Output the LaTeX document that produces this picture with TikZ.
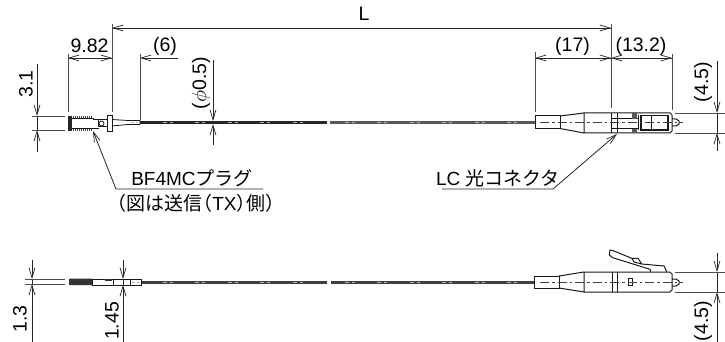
\documentclass[tikz,border=0pt]{standalone}
\usepackage{fontspec}
\setmainfont{Liberation Sans}
\newfontfamily\cjk[RawFeature=+halt]{Noto Sans CJK JP}
\usetikzlibrary{arrows.meta}
\begin{document}
\begin{tikzpicture}[
  x=1pt, y=-1pt,
  dim/.style={line width=0.8pt, black!85},
  ext/.style={line width=0.8pt, black!70},
  tip/.style={dim, -{Straight Barb[length=10pt,width=6pt,line width=0.7pt]}},
  part/.style={line width=1pt, black!90},
  fine/.style={line width=0.8pt, black!90},
  centre/.style={line width=0.6pt, black!75, dash pattern=on 9pt off 3pt on 2.5pt off 3pt},
  fibre/.style={line width=3pt, black!75},
  gapmark/.style={line width=1pt, white!70!black},
  dimtext/.style={font=\fontsize{19.5}{22}\selectfont, inner sep=0pt},
  leadtext/.style={font=\fontsize{19}{22}\selectfont, inner sep=0pt},
  vtext/.style={dimtext, rotate=90}
]
\clip (0,0) rectangle (725,342);
\fill[white] (0,0) rectangle (725,342);

% Top view: fibre with break
\coordinate (tf0) at (140,122.5);
\coordinate (tf1) at (327,122.5);
\coordinate (tf2) at (330,122.5);
\coordinate (tf3) at (535,122.5);
\draw[fibre, black!85] (tf0) -- (tf1);
\draw[fibre, black!65] (tf2) -- (tf3);
\foreach \xa in {163,195,228,260,293,345,377,410,442,475,507}
  \draw[gapmark] (\xa,122.5) -- ++(3.5,0) ++(3,0) -- ++(3.5,0);

% Top view: BF4MC plug
\fill[black!85] (68,116) rectangle (72,131);
\foreach \xa in {73,75,...,91} {
  \fill[black!75] (\xa,116) rectangle ++(1.3,2.5);
  \fill[black!75] (\xa,128.5) rectangle ++(1.3,2.5);
}
\draw[fine] (72,118.5) -- (93,118.5) (72,128.5) -- (93,128.5);
\draw[fine] (93,118.5) -- (93,119) -- (99,119) (93,128.5) -- (93,128) -- (99,128);
\draw[fine] (107,115) rectangle (112,131);
\draw[fine] (112,119.5) -- (128,120.5) -- (140,120.5) -- (140,124.5) -- (128,124.5) -- (112,126);
\draw[part] (98,120) rectangle (107,127);
\draw[fine] (101.5,123.5) circle (2.5);
\draw[gapmark] (131,122.5) -- ++(2.5,0) ++(2,0) -- ++(2.5,0);

% Top view: LC connector
\draw[part] (535,116) rectangle (560,128.5);
\draw[part] (560,116) -- (584,113) (560,128.5) -- (584,133);
\draw[part] (584,113) -- (670,113) -- (672,115) -- (672,131) -- (670,133) -- (584,133) -- cycle;
\draw[part] (611,113) -- (611,133) (617,113) -- (617,133);
\draw[part] (611,119) rectangle (638,129);
\fill[black!65] (632,113) rectangle (637,119);
\fill[black!65] (632,129) rectangle (637,133);
\draw[line width=1.2pt, black!90] (641,115.5) rectangle (668,130);
\draw[part] (651,115.5) -- (651,130) (638,115.5) -- (638,130);
\draw[part] (672,119) -- (676,119) -- (679,121) -- (679,124) -- (676,126) -- (672,126);
\coordinate (tc0) at (540,122.5);
\coordinate (tc1) at (683,122.5);
\draw[centre] (tc0) -- (tc1);

% Bottom view: fibre with break
\coordinate (bf0) at (141,282.5);
\coordinate (bf1) at (327,282.5);
\coordinate (bf2) at (331,282.5);
\coordinate (bf3) at (535,282.5);
\draw[fibre] (bf0) -- (bf1);
\draw[fibre] (bf2) -- (bf3);
\foreach \xa in {163,195,228,260,293,345,377,410,442,475,507}
  \draw[gapmark] (\xa,282.5) -- ++(3.5,0) ++(3,0) -- ++(3.5,0);

% Bottom view: BF4MC plug
\fill[black!80] (69,279) -- (70,278.5) -- (92,278.5) -- (92,285) -- (69,285) -- cycle;
\draw[fine] (92,279) rectangle (113,285);
\fill[black!80] (105,279) rectangle (112,281);
\draw[fine] (113,279) rectangle (130,285.5);
\draw[fine] (130,279.5) rectangle (141,285);
\draw[gapmark] (132,282.5) -- ++(2.5,0) ++(2,0) -- ++(2.5,0);

% Bottom view: LC connector
\draw[part] (534,276) rectangle (559,288);
\draw[part] (559,276) -- (584,272) (559,288) -- (584,292);
\draw[part] (584,272) -- (670,272) -- (672,274) -- (672,290) -- (670,292) -- (584,292) -- cycle;
\draw[part] (612,272) -- (612,292) (617,272) -- (617,292);
\draw[part] (628,278) rectangle (632,285);
\draw[part] (672,279) -- (676,279) -- (679,281) -- (679,284) -- (676,286) -- (672,286);
\draw[part] (650.7,271.7) -- (650,269.3) -- (612.7,257.7) -- (609.3,255) -- (610,250) -- (613.3,250.7)
  -- (631.7,258.3) -- (638,258.3) -- (641.7,264) -- (664,266) -- (666.7,271.7);
\draw[part] (632,258.3) -- (634,262) -- (641.7,264);
\coordinate (bc0) at (540,282.5);
\coordinate (bc1) at (683,282.5);
\draw[centre] (bc0) -- (bc1);

% Dimension L
\coordinate (la) at (112,28);
\coordinate (lb) at (611,28);
\draw[tip] (lb) -- (la);
\draw[tip] (la) -- (lb);
\node[dimtext] (ltext) at (364,14) {L};

% Dimension 9.82 and (6)
\coordinate (pa) at (68,58);
\coordinate (pb) at (112,58);
\coordinate (pc) at (140,58);
\coordinate (pd) at (178,58);
\draw[tip] (pb) -- (pa);
\draw[tip] (pa) -- (pb);
\draw[tip] (pd) -- (pc);
\node[dimtext] (ptext) at (89.5,46) {9.82};
\node[dimtext] (stext) at (165,46) {(6)};

% Extension lines, top left
\coordinate (ea) at (68,112);
\coordinate (eb) at (112,112);
\coordinate (ec) at (140,120);
\coordinate (ed) at (112,24);
\draw[ext] (pa) ++(0,-4) -- (ea);
\draw[ext] (ed) -- (eb);
\draw[ext] (pc) ++(0,-4) -- (ec);

% Dimension 3.1
\coordinate (ta) at (37,64);
\coordinate (tb) at (37,116);
\coordinate (tc) at (37,130);
\coordinate (td) at (37,152);
\draw[tip] (ta) -- (tb);
\draw[tip] (td) -- (tc);
\draw[dim] (tb) -- (tc);
\coordinate (te) at (32,116);
\coordinate (tg) at (65,116);
\coordinate (th) at (32,130);
\coordinate (ti) at (65,130);
\draw[ext] (te) -- (tg);
\draw[ext] (th) -- (ti);
\node[vtext] (ttext) at (26,84) {3.1};

% Dimension phi 0.5
\coordinate (fa) at (213,60);
\coordinate (fb) at (213,121);
\coordinate (fc) at (213,124);
\coordinate (fd) at (213,145);
\draw[tip] (fa) -- (fb);
\draw[tip] (fd) -- (fc);
\node[vtext] (ftext) at (201,83) {($\phi$0.5)};

% Dimension (17) and (13.2)
\coordinate (ra) at (535,58);
\coordinate (rb) at (611,58);
\coordinate (rc) at (672,58);
\draw[tip] (rb) -- (ra);
\draw[tip] (ra) -- (rb);
\draw[tip] (rb) -- (rc);
\draw[tip] (rc) -- (rb);
\node[dimtext] (rtext) at (572.5,46) {(17)};
\node[dimtext] (utext) at (641,46) {(13.2)};
\coordinate (xa) at (535,52);
\coordinate (xb) at (535,112);
\coordinate (xc) at (611,24);
\coordinate (xd) at (611,108);
\coordinate (xe) at (672,54);
\coordinate (xf) at (672,110);
\draw[ext] (xa) -- (xb);
\draw[ext] (xc) -- (xd);
\draw[ext] (xe) -- (xf);

% Dimension (4.5), top
\coordinate (ga) at (717,61);
\coordinate (gb) at (717,113);
\coordinate (gc) at (717,133);
\coordinate (gd) at (717,151);
\coordinate (ge) at (675,113);
\coordinate (gf) at (725,113);
\coordinate (gg) at (675,133);
\coordinate (gh) at (725,133);
\draw[tip] (ga) -- (gb);
\draw[tip] (gd) -- (gc);
\draw[dim] (gb) -- (gc);
\draw[ext] (ge) -- (gf);
\draw[ext] (gg) -- (gh);
\node[vtext] (gtext) at (703,82) {(4.5)};

% Leaders
\coordinate (ma) at (93,131);
\coordinate (mb) at (116,189);
\coordinate (mc) at (263,189);
\draw[tip] (mc) -- (mb) -- (ma);
\node[leadtext] (mtext) at (192,178) {BF4MC{\cjk プラグ}};
\node[leadtext] (ntext) at (196,203) {\cjk （図は送信（\rmfamily TX\cjk ）側）};
\coordinate (oa) at (617,134);
\coordinate (ob) at (553,189);
\coordinate (oc) at (442,189);
\draw[tip] (oc) -- (ob) -- (oa);
\node[leadtext] (otext) at (498,178) {LC {\cjk 光コネクタ}};

% Dimension 1.3
\coordinate (ha) at (32,260);
\coordinate (hb) at (32,279);
\coordinate (hc) at (32,284);
\coordinate (hd) at (32,342);
\draw[tip] (ha) -- (hb);
\draw[tip] (hd) -- (hc);
\draw[dim] (hb) -- (hc);
\coordinate (he) at (25,279);
\coordinate (hf) at (65,279);
\coordinate (hg) at (25,284);
\coordinate (hh) at (65,284);
\draw[ext] (he) -- (hf);
\draw[ext] (hg) -- (hh);
\node[vtext] (htext) at (20,319) {1.3};

% Dimension 1.45
\coordinate (ja) at (123,260);
\coordinate (jb) at (123,279);
\coordinate (jc) at (123,285);
\coordinate (jd) at (123,342);
\draw[tip] (ja) -- (jb);
\draw[tip] (jd) -- (jc);
\draw[dim] (jb) -- (jc);
\node[vtext] (jtext) at (112,321) {1.45};

% Dimension (4.5), bottom
\coordinate (ka) at (717,253);
\coordinate (kb) at (717,272);
\coordinate (kc) at (717,292);
\coordinate (kd) at (717,342);
\coordinate (ke) at (675,272);
\coordinate (kf) at (725,272);
\coordinate (kg) at (675,292);
\coordinate (kh) at (725,292);
\draw[tip] (ka) -- (kb);
\draw[tip] (kd) -- (kc);
\draw[dim] (kb) -- (kc);
\draw[ext] (ke) -- (kf);
\draw[ext] (kg) -- (kh);
\node[vtext] (ktext) at (703,321) {(4.5)};
\end{tikzpicture}
\end{document}
